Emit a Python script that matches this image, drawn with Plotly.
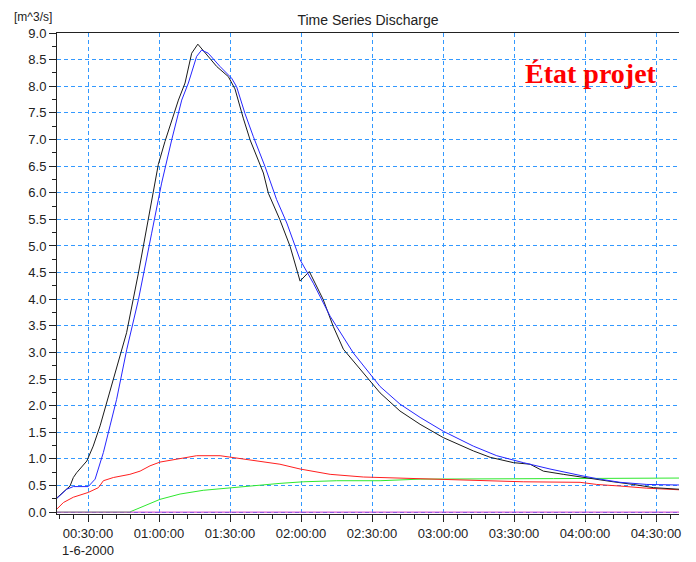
import pandas as pd
import plotly.graph_objects as go

# Time axis in minutes after midnight, 1 June 2000
t_black = [16.9, 22.4, 23.8, 25.2, 29.5, 30.1, 32.2, 35.1, 37.9, 44.2, 46.3, 51.3, 58.3, 59.7,
           62.5, 68.2, 71.0, 73.8, 76.4, 78.0, 84.4, 89.3, 92.1, 95.6, 98.5, 104.1, 106.2,
           111.1, 115.4, 119.6, 123.5, 129.4, 133.6, 137.9, 142.1, 153.4, 161.8, 170.3,
           180.1, 192.8, 199.9, 209.7, 216.8, 222.4, 230.8, 239.3, 244.9, 251.9, 260.4,
           268.9, 279.7]
q_black = [0.27, 0.49, 0.65, 0.74, 0.96, 1.03, 1.24, 1.62, 2.07, 3.06, 3.37, 4.49, 6.24, 6.53,
           6.96, 7.74, 8.06, 8.62, 8.79, 8.71, 8.37, 8.18, 7.95, 7.40, 6.99, 6.37, 5.99,
           5.49, 4.99, 4.34, 4.52, 3.99, 3.49, 3.06, 2.84, 2.24, 1.90, 1.65,
           1.40, 1.15, 1.03, 0.93, 0.90, 0.77, 0.71, 0.65, 0.62, 0.57, 0.52,
           0.46, 0.43]

t_blue = [16.9, 21.0, 23.8, 30.1, 33.0, 36.5, 39.3, 42.1, 46.4, 51.3, 56.9, 61.1, 65.4, 69.6,
          72.4, 75.9, 78.0, 80.8, 85.8, 90.7, 92.8, 96.3, 99.8, 104.8, 109.7, 114.0, 119.6,
          125.2, 132.3, 142.1, 153.4, 161.8, 170.3, 180.1, 192.8, 202.7, 213.9, 225.2,
          237.9, 244.9, 254.8, 266.1, 279.7]
q_blue = [0.26, 0.43, 0.48, 0.48, 0.62, 1.12, 1.62, 2.12, 3.06, 3.99, 5.24, 6.18, 7.00, 7.74,
          8.06, 8.56, 8.68, 8.62, 8.37, 8.15, 7.99, 7.49, 7.06, 6.49, 5.87, 5.43, 4.74,
          4.30, 3.68, 2.99, 2.36, 2.03, 1.78, 1.52, 1.24, 1.06, 0.93, 0.81,
          0.69, 0.63, 0.56, 0.52, 0.51]

t_red = [16.9, 19.6, 23.8, 30.1, 34.4, 36.5, 40.7, 47.7, 52.0, 56.2, 60.4, 67.5, 75.9, 85.8,
         94.2, 104.1, 111.1, 119.6, 132.3, 146.3, 153.4, 170.3, 213.9, 237.9, 244.9, 254.8,
         266.1, 279.7]
q_red = [0.06, 0.18, 0.28, 0.37, 0.46, 0.59, 0.65, 0.71, 0.77, 0.87, 0.94, 0.99, 1.06, 1.06,
         1.01, 0.94, 0.90, 0.81, 0.71, 0.66, 0.65, 0.62, 0.57, 0.56, 0.52, 0.49,
         0.45, 0.42]

t_green = [16.9, 47.5, 60.4, 68.9, 78.7, 90.0, 101.3, 111.1, 120.9, 135.1, 153.4, 170.3,
           226.6, 279.7]
q_green = [0.0, 0.0, 0.24, 0.34, 0.41, 0.46, 0.51, 0.54, 0.57, 0.59, 0.59, 0.62,
           0.63, 0.64]

t_magenta = [16.9, 279.7]
q_magenta = [0.0, 0.0]

x_range_min = [16.9, 279.7]
y_range = [-0.035, 9.0]
tick_minutes = [30, 60, 90, 120, 150, 180, 210, 240, 270]
tick_text = ["00:30:00<br>1-6-2000", "01:00:00", "01:30:00", "02:00:00", "02:30:00",
             "03:00:00", "03:30:00", "04:00:00", "04:30:00"]

base = pd.Timestamp("2000-06-01")


def to_time(minutes):
    return [base + pd.Timedelta(minutes=m) for m in minutes]


fig = go.Figure()
series = [
    (t_green, q_green, "#2ee82e"),
    (t_magenta, q_magenta, "#cc33cc"),
    (t_red, q_red, "#ff1f1f"),
    (t_black, q_black, "#1a1a1a"),
    (t_blue, q_blue, "#2626ff"),
]
for t, q, c in series:
    fig.add_trace(go.Scatter(x=to_time(t), y=q, mode="lines",
                             line=dict(color=c, width=1), hoverinfo="skip",
                             showlegend=False, cliponaxis=False))

grid_color = "#3399ff"
font_family = "Liberation Sans, Arial, sans-serif"

plot_w = 696 - 57 - 17
plot_h = 562 - 33 - 48

fig.update_layout(
    width=696, height=562,
    margin=dict(l=57, r=17, t=33, b=48, autoexpand=False),
    paper_bgcolor="white", plot_bgcolor="white",
    font=dict(family=font_family, size=13, color="#222"),
    title=dict(text="Time Series Discharge", x=368 / 696,
               xanchor="center", y=1 - 20 / 562, yanchor="middle",
               font=dict(size=14, color="#222")),
    xaxis=dict(
        type="date", automargin=False,
        range=to_time(x_range_min),
        tickvals=to_time(tick_minutes), ticktext=tick_text,
        ticks="outside", ticklen=7, tickcolor="#222", tickwidth=1,
        showline=True, linecolor="#222", linewidth=1, mirror=True,
        showgrid=True, gridcolor=grid_color, griddash="4px,3px", gridwidth=1,
        zeroline=False,
        minor=dict(dtick=6 * 60 * 1000, tick0=to_time([0])[0], ticks="outside",
                   ticklen=4, tickcolor="#222", showgrid=False),
        tickfont=dict(size=13, color="#222"),
    ),
    yaxis=dict(
        automargin=False,
        range=y_range, dtick=0.5, tick0=0, tickformat=".1f",
        ticks="outside", ticklen=7, tickcolor="#222", tickwidth=1,
        showline=True, linecolor="#222", linewidth=1,
        showgrid=True, gridcolor=grid_color, griddash="4px,3px", gridwidth=1,
        zeroline=False,
        minor=dict(dtick=0.25, tick0=0, ticks="outside", ticklen=4, tickcolor="#222",
                   showgrid=False),
        tickfont=dict(size=13, color="#222"),
    ),
    annotations=[
        dict(text="[m^3/s]", xref="paper", yref="paper", x=-45 / plot_w, y=1 + 16 / plot_h,
             xanchor="left", yanchor="middle", showarrow=False,
             font=dict(size=12, color="#222")),
        dict(text="<b>État projet</b>", xref="paper", yref="paper",
             x=(659 - 57) / plot_w, y=(514 - 73) / plot_h, xanchor="right",
             yanchor="middle", showarrow=False,
             font=dict(family="Liberation Serif, Times New Roman, serif", size=28,
                       color="#ff0000")),
    ],
)

fig.write_html("out.html")
